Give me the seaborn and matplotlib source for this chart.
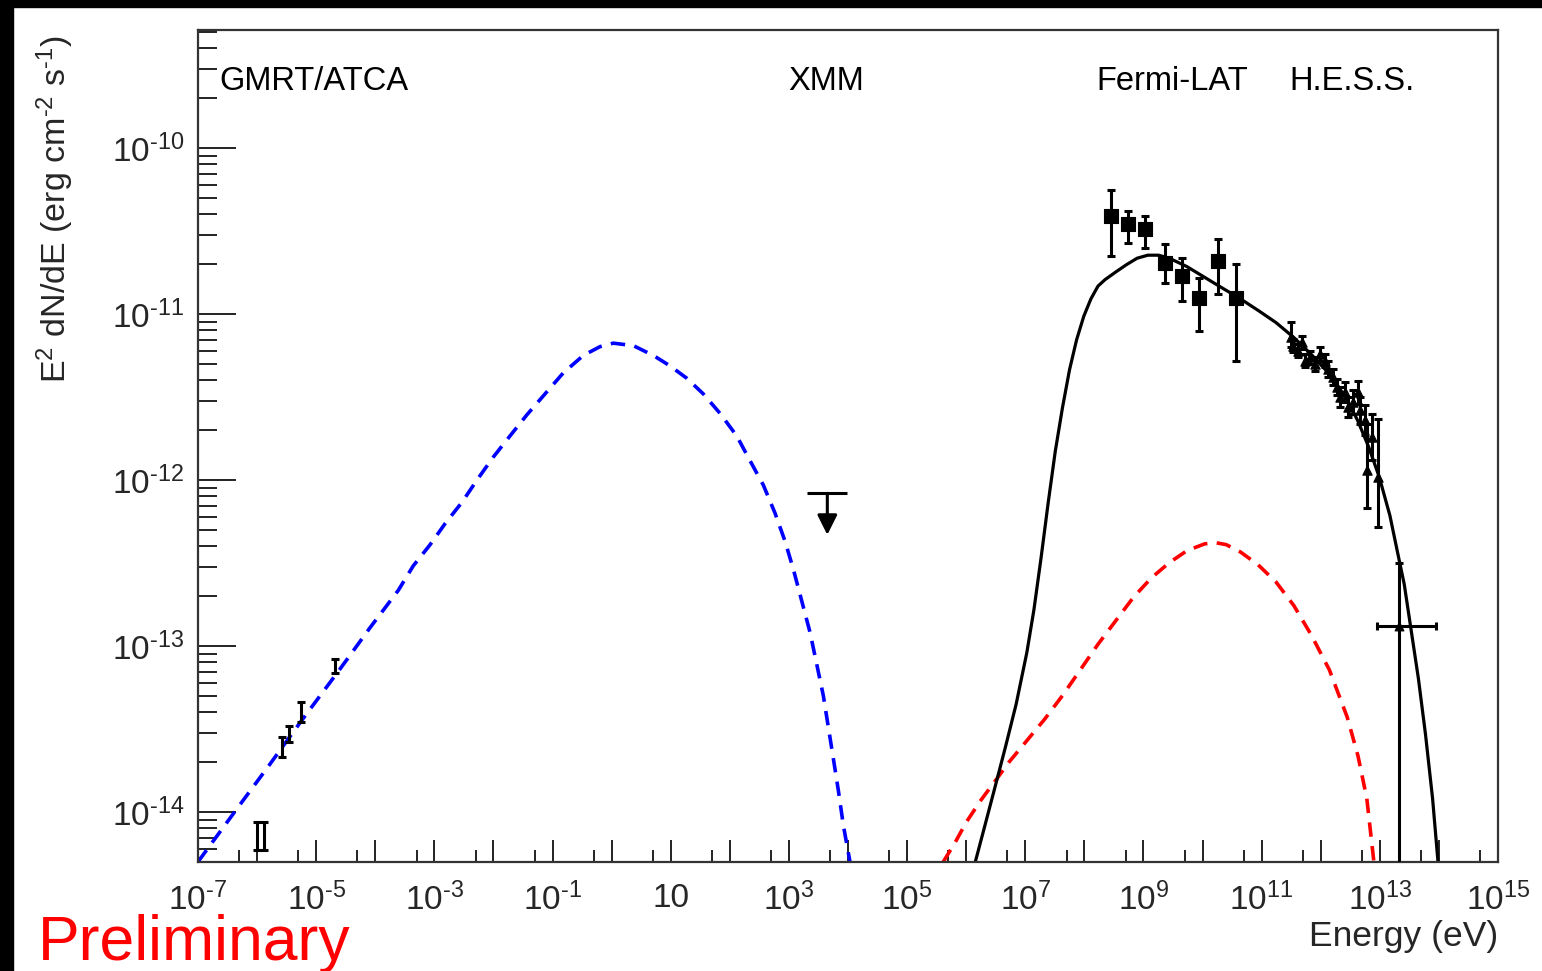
import numpy as np
import pandas as pd
import matplotlib
matplotlib.use('Agg')
import matplotlib.pyplot as plt
import matplotlib.ticker as ticker
import matplotlib.transforms as mtransforms
from matplotlib.patches import Rectangle
import seaborn as sns

# values, stored as log10(E / eV) and log10(E^2 dN/dE)
sync_logE = [-7.0, -6.32, -5.80, -5.27, -4.60, -4.09, -3.835, -3.61, -3.356, -3.074, -2.82, -2.538,
             -2.256, -2.002, -1.72, -1.437, -1.128, -0.818, -0.479, -0.197, 0.029, 0.367, 0.706,
             0.988, 1.27, 1.552, 1.834, 2.117, 2.342, 2.567, 2.765, 2.934, 3.075, 3.217, 3.357,
             3.47, 3.582, 3.667, 3.752, 3.836, 3.921, 4.034]
sync_logF = [-14.30, -13.97, -13.72, -13.46, -13.14, -12.89, -12.77, -12.664, -12.516, -12.39, -12.263, -12.136,
             -11.988, -11.861, -11.734, -11.608, -11.481, -11.354, -11.249, -11.196, -11.175, -11.19, -11.249,
             -11.312, -11.386, -11.481, -11.598, -11.734, -11.883, -12.03, -12.199, -12.368, -12.537, -12.728, -12.917,
             -13.108, -13.298, -13.488, -13.678, -13.868, -14.079, -14.301]

ic_logE = [5.609, 5.821, 6.002, 6.242, 6.484, 6.725, 7.026, 7.327, 7.628, 7.93, 8.231, 8.532,
           8.833, 9.135, 9.436, 9.737, 10.038, 10.219, 10.40, 10.641, 10.942, 11.243, 11.545,
           11.846, 12.147, 12.448, 12.63, 12.78, 12.90]
ic_logF = [-14.302, -14.178, -14.061, -13.932, -13.816, -13.699, -13.57, -13.441, -13.299, -13.144, -12.989, -12.847,
           -12.705, -12.589, -12.498, -12.425, -12.384, -12.377, -12.389, -12.433, -12.511, -12.614, -12.756,
           -12.937, -13.144, -13.428, -13.661, -13.919, -14.302]

tot_logE = [6.153, 6.303, 6.484, 6.664, 6.845, 7.026, 7.146, 7.266, 7.388, 7.508, 7.628, 7.749,
            7.869, 7.991, 8.111, 8.231, 8.351, 8.532, 8.713, 8.894, 9.074, 9.255, 9.436, 9.737,
            10.038, 10.34, 10.641, 10.942, 11.243, 11.545, 11.846, 12.147, 12.448, 12.63, 12.811,
            12.99, 13.171, 13.291, 13.413, 13.533, 13.653, 13.773, 13.893, 13.985]
tot_logF = [-14.302, -14.10, -13.855, -13.609, -13.351, -13.04, -12.782, -12.472, -12.136, -11.826, -11.567, -11.335,
            -11.154, -11.012, -10.908, -10.831, -10.792, -10.746, -10.702, -10.663, -10.645, -10.645, -10.663, -10.714,
            -10.779, -10.844, -10.908, -10.978, -11.051, -11.141, -11.245, -11.361, -11.516, -11.645, -11.80,
            -11.981, -12.214, -12.42, -12.627, -12.911, -13.196, -13.532, -13.919, -14.302]

radio_logE = [-6.01, -5.89, -5.57, -5.46, -5.26, -4.68]
radio_logF_lo = [-14.23, -14.23, -13.67, -13.58, -13.46, -13.16]
radio_logF_hi = [-14.06, -14.06, -13.55, -13.48, -13.34, -13.08]

xmm_logE = [3.65]
xmm_logF = [-12.08]

fermi_logE = [8.45, 8.74, 9.03, 9.36, 9.66, 9.94, 10.26, 10.57]
fermi_logF = [-10.41, -10.46, -10.49, -10.69, -10.77, -10.90, -10.68, -10.90]
fermi_logF_lo = [-10.65, -10.57, -10.60, -10.81, -10.92, -11.10, -10.88, -11.28]
fermi_logF_hi = [-10.25, -10.38, -10.41, -10.58, -10.66, -10.78, -10.55, -10.70]

hess_logE = [11.50, 11.53, 11.62, 11.68, 11.73, 11.82, 11.90, 11.99, 12.07, 12.12, 12.21,
             12.28, 12.33, 12.41, 12.46, 12.55, 12.63, 12.67, 12.75, 12.87, 12.78, 12.97]
hess_logF = [-11.14, -11.19, -11.22, -11.17, -11.28, -11.26, -11.30, -11.24, -11.28, -11.33, -11.38,
             -11.44, -11.50, -11.47, -11.56, -11.53, -11.47, -11.58, -11.64, -11.74, -11.94, -11.98]
hess_logF_lo = [-11.20, -11.23, -11.26, -11.21, -11.32, -11.30, -11.34, -11.28, -11.32, -11.38, -11.43,
                -11.49, -11.56, -11.53, -11.62, -11.60, -11.54, -11.66, -11.73, -11.88, -12.17, -12.28]
hess_logF_hi = [-11.05, -11.15, -11.18, -11.13, -11.24, -11.22, -11.26, -11.20, -11.24, -11.28, -11.33,
                -11.39, -11.44, -11.41, -11.50, -11.46, -11.40, -11.50, -11.55, -11.60, -11.66, -11.63]

# last H.E.S.S. point, flux error reaching below the frame
hess_last_logE = [13.33]
hess_last_logF = [-12.88]
hess_last_logF_lo = [-14.6]
hess_last_logF_hi = [-12.50]
hess_last_logE_lo = [12.95]
hess_last_logE_hi = [13.95]

labels = ['GMRT/ATCA', 'XMM', 'Fermi-LAT', 'H.E.S.S.']
label_logE = [-6.63, 3.63, 9.48, 12.53]

energy_decades = list(range(-7, 16))
flux_decades = list(range(-14, -9))


def lin(v):
    return np.power(10.0, np.asarray(v, dtype=float))


def curve(ax, logE, logF, cr, ls, lw):
    df = pd.DataFrame({'energy': lin(logE), 'flux': lin(logF)})
    sns.lineplot(data=df, x='energy', y='flux', sort=False, estimator=None,
                 color=cr, linestyle=ls, linewidth=lw, ax=ax)


def bars(ax, logE, logF, lo, hi, xlo=None, xhi=None, marker=None, size=0):
    e = lin(logE)
    f = lin(logF)
    yerr = [f - lin(lo), lin(hi) - f]
    xerr = None
    if xlo is not None:
        xerr = [e - lin(xlo), lin(xhi) - e]
    ax.errorbar(e, f, yerr=yerr, xerr=xerr, fmt='none', ecolor='black',
                elinewidth=2.2, capsize=3, capthick=2.2, zorder=4)
    if marker is not None:
        sns.scatterplot(x=e, y=f, marker=marker, s=size, color='black',
                        edgecolor='black', linewidth=0.8, ax=ax, zorder=5)


def power_text(n):
    if n < 0:
        return r'$10^{\text{-}%d}$' % (-n)
    return r'$10^{%d}$' % n


def energy_label(v, pos):
    n = int(round(np.log10(v)))
    if n % 2 == 0:
        return ''
    if n == 1:
        return '10'
    return power_text(n)


def flux_label(v, pos):
    return power_text(int(round(np.log10(v))))


sns.set_theme(style='white')
plt.rcParams['font.family'] = ['Liberation Sans', 'DejaVu Sans']
plt.rcParams['mathtext.fontset'] = 'custom'
plt.rcParams['mathtext.rm'] = 'Liberation Sans'
plt.rcParams['mathtext.it'] = 'Liberation Sans:italic'
plt.rcParams['mathtext.bf'] = 'Liberation Sans:bold'

fig = plt.figure(figsize=(15.42, 9.71), dpi=100)
ax = fig.add_axes([198 / 1542, 109 / 971, 1300 / 1542, 832 / 971])
ax.set_xscale('log')
ax.set_yscale('log')

curve(ax, sync_logE, sync_logF, '#0000ff', (0, (4, 2.6)), 2.6)
curve(ax, ic_logE, ic_logF, '#ff0000', (0, (4, 2.6)), 2.6)
curve(ax, tot_logE, tot_logF, 'black', '-', 2.3)

bars(ax, radio_logE, [(a + b) / 2 for a, b in zip(radio_logF_lo, radio_logF_hi)],
     radio_logF_lo, radio_logF_hi)
bars(ax, fermi_logE, fermi_logF, fermi_logF_lo, fermi_logF_hi, marker='s', size=110)
bars(ax, hess_logE, hess_logF, hess_logF_lo, hess_logF_hi, marker='^', size=45)
bars(ax, hess_last_logE, hess_last_logF, hess_last_logF_lo, hess_last_logF_hi,
     hess_last_logE_lo, hess_last_logE_hi, marker='^', size=40)

# XMM upper limit
e_ul = lin(xmm_logE)
f_ul = lin(xmm_logF)
ax.errorbar(e_ul, f_ul, xerr=[e_ul * (1 - 10 ** -0.34), e_ul * (10 ** 0.34 - 1)],
            fmt='none', ecolor='black', elinewidth=2.2, capsize=0)
for e, f in zip(e_ul, f_ul):
    ax.annotate('', xy=(e, f * 10 ** -0.25), xytext=(e, f),
                arrowprops=dict(arrowstyle='-|>', color='black', lw=2.2,
                                mutation_scale=30, shrinkA=0, shrinkB=0))

ax.set_xlim(1e-7, 1e15)
ax.set_ylim(5.0e-15, 5.15e-10)

ax.xaxis.set_major_locator(ticker.FixedLocator(lin(energy_decades)))
ax.xaxis.set_minor_locator(ticker.FixedLocator(5 * lin(energy_decades[:-1])))
ax.xaxis.set_major_formatter(ticker.FuncFormatter(energy_label))
ax.xaxis.set_minor_formatter(ticker.NullFormatter())
ax.yaxis.set_major_locator(ticker.FixedLocator(lin(flux_decades)))
ax.yaxis.set_minor_locator(ticker.LogLocator(base=10, subs=np.arange(2, 10), numticks=20))
ax.yaxis.set_major_formatter(ticker.FuncFormatter(flux_label))
ax.yaxis.set_minor_formatter(ticker.NullFormatter())

ax.tick_params(axis='x', which='major', direction='in', length=16, width=1.4,
               color='#222222', labelsize=24, pad=15, top=False, bottom=True)
ax.tick_params(axis='x', which='minor', direction='in', length=8.5, width=1.4,
               color='#222222', top=False, bottom=True)
ax.tick_params(axis='y', which='major', direction='in', length=27, width=1.4,
               color='#222222', labelsize=24, pad=10, right=False, left=True)
ax.tick_params(axis='y', which='minor', direction='in', length=14, width=1.4,
               color='#222222', right=False, left=True)

for s in ax.spines.values():
    s.set_color('#333333')
    s.set_linewidth(1.6)

ax.set_xlabel('Energy (eV)', fontsize=25.5, loc='right')
ax.xaxis.set_label_coords(1.0, -0.07)
ax.set_ylabel(r'E$^{2}$ dN/dE (erg cm$^{\text{-}2}$ s$^{\text{-}1}$)', fontsize=24.5, loc='top')
ax.yaxis.set_label_coords(-0.094, 0.994)

trans = mtransforms.blended_transform_factory(ax.transData, ax.transAxes)
for i, (t, le) in enumerate(zip(labels, label_logE)):
    ax.text(10 ** le, 0.938, t, transform=trans, fontsize=23.5,
            ha='left' if i == 0 else 'center', va='center', color='black')

fig.text(38 / 1542, 11 / 971, 'Preliminary', color='#ff0000', fontsize=45,
         ha='left', va='baseline')

# black border of the screenshot
fig.patches.append(Rectangle((0, 1 - 7 / 971), 1, 7 / 971, transform=fig.transFigure,
                             color='black', zorder=10))
fig.patches.append(Rectangle((0, 0), 13 / 1542, 1, transform=fig.transFigure,
                             color='black', zorder=10))

plt.savefig('out.png', dpi=100, facecolor='white')
plt.close()
